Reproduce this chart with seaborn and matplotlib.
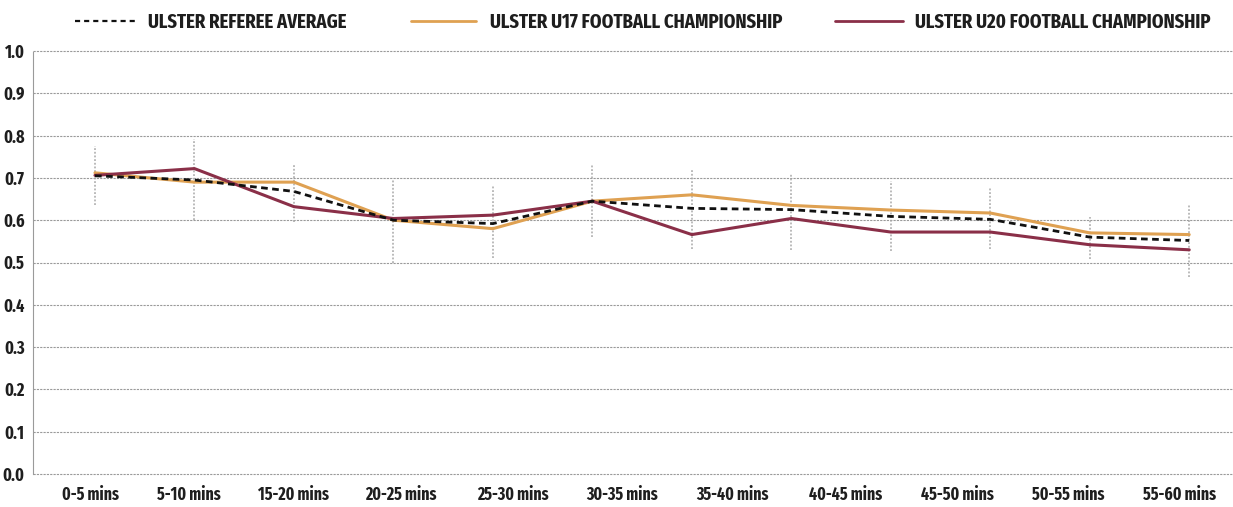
import numpy as np
import pandas as pd
import matplotlib
matplotlib.use("Agg")
import matplotlib.pyplot as plt
from matplotlib.lines import Line2D
from matplotlib import font_manager as fm
from matplotlib.font_manager import FontProperties
import seaborn as sns

# ---- data ----
periods = list(range(12))  # 12 five-minute intervals plotted
tick_labels = ["0-5 mins", "5-10 mins", "15-20 mins", "20-25 mins", "25-30 mins",
               "30-35 mins", "35-40 mins", "40-45 mins", "45-50 mins", "50-55 mins",
               "55-60 mins"]
referee_avg = [0.705, 0.695, 0.668, 0.600, 0.592, 0.645, 0.628, 0.625, 0.609, 0.602, 0.560, 0.552]
u17 = [0.712, 0.690, 0.690, 0.600, 0.580, 0.645, 0.660, 0.635, 0.624, 0.617, 0.570, 0.566]
u20 = [0.706, 0.722, 0.632, 0.604, 0.612, 0.645, 0.566, 0.604, 0.572, 0.572, 0.542, 0.530]
err_low = [0.636, 0.600, 0.595, 0.500, 0.510, 0.560, 0.533, 0.530, 0.527, 0.531, 0.508, 0.465]
err_high = [0.776, 0.792, 0.734, 0.694, 0.680, 0.730, 0.720, 0.712, 0.692, 0.677, 0.608, 0.635]
y_ticks = [0.0, 0.1, 0.2, 0.3, 0.4, 0.5, 0.6, 0.7, 0.8, 0.9, 1.0]

legend_labels = ["ULSTER REFEREE AVERAGE", "ULSTER U17 FOOTBALL CHAMPIONSHIP",
                 "ULSTER U20 FOOTBALL CHAMPIONSHIP"]

# ---- style ----
sns.set_theme(style="white")

STRETCH_RANK = {"ultra-condensed": 4, "extra-condensed": 3, "condensed": 2,
                "semi-condensed": 1}


def pick_font():
    best = None
    for f in fm.fontManager.ttflist:
        nm = f.name.lower()
        fn = f.fname.lower()
        if "cjk" in nm or "mono" in nm:
            continue
        st = str(f.stretch).lower()
        rank = STRETCH_RANK.get(st, 0)
        if "extracondensed" in fn.replace("-", "").replace("_", "") or "extra condensed" in nm:
            rank = max(rank, 3)
        elif "semicondensed" in fn.replace("-", "").replace("_", "") or "semi condensed" in nm:
            rank = max(rank, 1)
        elif "condensed" in fn or "condensed" in nm or "narrow" in nm or "narrow" in fn:
            rank = max(rank, 2)
        if rank == 0:
            continue
        if "italic" in f.style.lower() or "oblique" in f.style.lower() or "italic" in fn:
            continue
        w = f.weight
        try:
            w = int(w)
        except Exception:
            w = 700 if "bold" in str(w).lower() else 400
        score = rank * 1000 - abs(w - 750)
        if best is None or score > best[0]:
            best = (score, f.fname)
    if best is not None:
        return best[1]
    for fam in ["Roboto", "Liberation Sans", "DejaVu Sans"]:
        try:
            return fm.findfont(FontProperties(family=fam, weight="bold"), fallback_to_default=False)
        except Exception:
            pass
    return fm.findfont(FontProperties(weight="bold"))


FONT_PATH = pick_font()
plt.rcParams['font.family'] = ['DejaVu Sans']

C_U17 = "#DFA152"
C_U20 = "#8A2F48"
C_AVG = "#111111"
C_GRID = "#9a9a9a"
C_TEXT = "#1e1e1e"

W, H = 1233, 507
fig = plt.figure(figsize=(W / 100, H / 100), dpi=100)
renderer = fig.canvas.get_renderer()


def fit_size(text, target_px, ref_size=20.0, max_size=None):
    fp = FontProperties(fname=FONT_PATH, size=ref_size)
    t = fig.text(0, 0, text, fontproperties=fp)
    w = t.get_window_extent(renderer).width
    t.remove()
    s = ref_size * target_px / w
    if max_size is not None:
        s = min(s, max_size)
    return s


ax = fig.add_axes([33 / W, 33 / H, 1 - 33 / W, (474 - 51) / H])

df = pd.DataFrame({"period": periods, "avg": referee_avg, "u17": u17, "u20": u20,
                   "lo": err_low, "hi": err_high})

# error bars (grey dotted verticals)
ax.vlines(df["period"], df["lo"], df["hi"], colors="#a8a8a8", linestyles=(0, (1.2, 1.2)),
          linewidth=1.1, zorder=2)

sns.lineplot(data=df, x="period", y="u17", ax=ax, color=C_U17, linewidth=2.2, zorder=3)
sns.lineplot(data=df, x="period", y="u20", ax=ax, color=C_U20, linewidth=2.2, zorder=4)
sns.lineplot(data=df, x="period", y="avg", ax=ax, color=C_AVG, linewidth=2.0, zorder=5,
             linestyle=(0, (2.4, 1.6)))

ax.set_xlim(-0.623, 11.44)
ax.set_ylim(0, 1.0)
ax.set_xlabel("")
ax.set_ylabel("")

ytick_size = fit_size("0.0", 22, max_size=14)
xtick_size = fit_size("0-5 mins", 57, max_size=15)
leg_size = fit_size(legend_labels[0], 198, max_size=21)

ax.set_yticks(y_ticks)
ax.set_yticklabels([f"{v:.1f}" for v in y_ticks], color=C_TEXT)
tick_pos = [-0.04, 0.94, 2.0, 3.08, 4.2, 5.3, 6.41, 7.55, 8.67, 9.78, 10.9]
ax.set_xticks(tick_pos)
ax.set_xticklabels(tick_labels, color=C_TEXT)
for lbl in ax.get_yticklabels():
    lbl.set_fontproperties(FontProperties(fname=FONT_PATH, size=ytick_size))
for lbl in ax.get_xticklabels():
    lbl.set_fontproperties(FontProperties(fname=FONT_PATH, size=xtick_size))
ax.tick_params(axis='both', length=0)
ax.tick_params(axis='x', pad=9)
ax.tick_params(axis='y', pad=6)

ax.grid(False)
for v in y_ticks:
    ax.axhline(v, color=C_GRID, linewidth=0.8, linestyle=(0, (2, 1)), zorder=1, clip_on=False)
for s in ["top", "right", "bottom"]:
    ax.spines[s].set_visible(False)
ax.spines["left"].set_color(C_GRID)
ax.spines["left"].set_linewidth(0.8)
ax.spines["left"].set_linestyle((0, (2, 1)))

# legend: three items placed along the top
handles = [
    Line2D([0], [0], color=C_AVG, linewidth=1.6, linestyle=(0, (2.3, 1.8))),
    Line2D([0], [0], color=C_U17, linewidth=2.0),
    Line2D([0], [0], color=C_U20, linewidth=2.0),
]
handle_x = [75, 411, 835]
handle_len = [63, 65, 68]
text_gap = [10, 14, 12]
size_px = leg_size * 100 / 72
leg_fp = FontProperties(fname=FONT_PATH, size=leg_size)
for h, lab, x0, hl, gp in zip(handles, legend_labels, handle_x, handle_len, text_gap):
    lg = fig.legend([h], [lab], loc="center left", bbox_to_anchor=(x0 / W, 1 - 22 / H),
                    frameon=False, borderpad=0, borderaxespad=0,
                    handlelength=hl / size_px, handletextpad=gp / size_px, prop=leg_fp)
    for t in lg.get_texts():
        t.set_color(C_TEXT)

fig.savefig("out.png", dpi=100, facecolor="white")
